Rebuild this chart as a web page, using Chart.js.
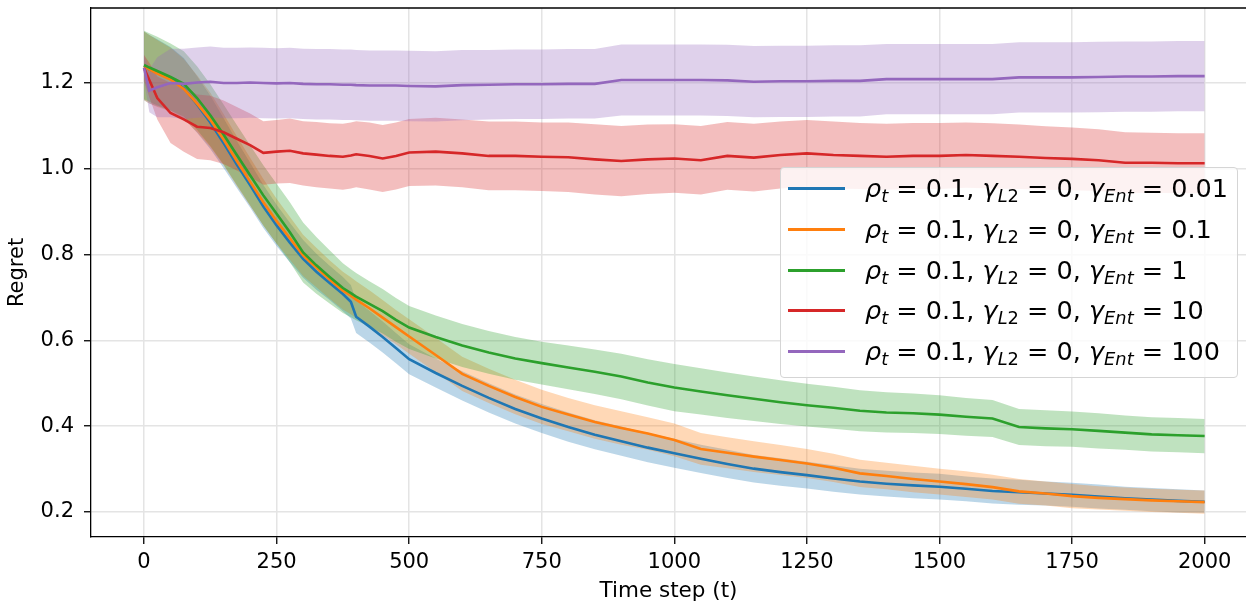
<!DOCTYPE html>
<html>
<head>
<meta charset="utf-8">
<script src="https://cdn.jsdelivr.net/npm/chart.js@4.4.0/dist/chart.umd.min.js"></script>
<style>
  body { margin: 0; background: #fff; }
  #wrap { position: relative; width: 1246px; height: 604px; overflow: hidden; }
  #legend {
    position: absolute; left: 780px; top: 167px; width: 456px; height: 209px;
    border: 1px solid #d5d5d5; border-radius: 4px; background: rgba(255,255,255,0.8);
    font-family: 'DejaVu Sans'; font-size: 25.5px; color: #000;
  }
  .row { position: absolute; left: 0; right: 0; height: 41px; line-height: 41px; white-space: nowrap; }
  .row .sw { position: absolute; left: 7px; width: 57px; height: 3px; top: 19px; }
  .row .txt { position: absolute; left: 84px; }
  .row sub { font-size: 70%; line-height: 0; vertical-align: -0.3em; }
  .row i { font-style: italic; }
  .row .up { font-style: normal; }
</style>
</head>
<body>
<div id="wrap">
  <canvas id="regretChart" width="1246" height="604"></canvas>
  <div id="legend"></div>
</div>
<script>
// time axis (shared by all runs)
const timeSteps = [0,10,25,50,75,100,125,150,175,200,225,250,275,300,325,350,375,390,400,425,450,475,500,
  550,600,650,700,750,800,850,900,950,1000,1050,1100,1150,1200,1250,1300,1350,1400,1450,1500,
  1550,1600,1650,1700,1750,1800,1850,1900,1950,2000];

// gamma_Ent = 0.01
const meanEnt001 = [1.240,1.232,1.224,1.210,1.188,1.150,1.108,1.060,1.010,0.962,0.912,0.868,0.828,0.790,0.760,0.734,0.708,0.690,0.655,0.632,0.608,0.582,0.556,
  0.524,0.494,0.466,0.440,0.418,0.398,0.380,0.365,0.350,0.337,0.324,0.312,0.301,0.293,0.286,0.278,0.271,0.266,0.262,0.259,
  0.254,0.249,0.246,0.243,0.240,0.236,0.232,0.229,0.226,0.224];
const stdEnt001 = [0.080,0.080,0.078,0.074,0.070,0.066,0.062,0.058,0.055,0.052,0.050,0.048,0.046,0.044,0.042,0.040,0.040,0.039,0.038,0.037,0.036,0.035,0.035,
  0.034,0.034,0.034,0.034,0.034,0.034,0.034,0.034,0.034,0.034,0.033,0.033,0.032,0.032,0.031,0.031,0.030,0.030,0.030,0.030,
  0.029,0.029,0.029,0.028,0.028,0.028,0.027,0.027,0.027,0.026];

// gamma_Ent = 0.1
const meanEnt01 = [1.240,1.232,1.222,1.208,1.186,1.152,1.114,1.068,1.018,0.970,0.922,0.878,0.838,0.798,0.770,0.742,0.716,0.704,0.695,0.675,0.653,0.631,0.609,
  0.566,0.522,0.494,0.468,0.445,0.427,0.410,0.396,0.383,0.368,0.347,0.338,0.329,0.321,0.313,0.303,0.290,0.284,0.277,0.271,
  0.265,0.258,0.248,0.243,0.237,0.233,0.230,0.227,0.225,0.223];
const stdEnt01 = [0.080,0.080,0.078,0.074,0.070,0.066,0.063,0.060,0.058,0.056,0.054,0.052,0.050,0.048,0.046,0.045,0.044,0.043,0.043,0.042,0.041,0.040,0.040,
  0.040,0.040,0.040,0.040,0.040,0.039,0.039,0.039,0.038,0.038,0.037,0.036,0.036,0.035,0.034,0.033,0.032,0.031,0.031,0.030,
  0.030,0.029,0.029,0.028,0.028,0.027,0.027,0.027,0.027,0.027];

// gamma_Ent = 1
const meanEnt1 = [1.242,1.236,1.228,1.214,1.198,1.165,1.125,1.080,1.032,0.985,0.938,0.895,0.852,0.805,0.775,0.748,0.722,0.710,0.702,0.685,0.668,0.648,0.630,
  0.608,0.588,0.572,0.558,0.547,0.537,0.527,0.516,0.502,0.490,0.481,0.472,0.464,0.456,0.449,0.443,0.436,0.432,0.430,0.427,
  0.422,0.418,0.398,0.395,0.393,0.389,0.385,0.381,0.379,0.377];
const stdEnt1 = [0.080,0.080,0.080,0.078,0.076,0.074,0.072,0.070,0.070,0.070,0.070,0.070,0.070,0.070,0.066,0.062,0.058,0.056,0.055,0.053,0.052,0.051,0.050,
  0.050,0.050,0.050,0.050,0.050,0.051,0.052,0.053,0.054,0.055,0.054,0.053,0.052,0.051,0.050,0.049,0.048,0.047,0.046,0.045,
  0.044,0.043,0.042,0.042,0.041,0.041,0.040,0.040,0.040,0.040];

// gamma_Ent = 10
const meanEnt10 = [1.235,1.207,1.165,1.130,1.115,1.098,1.095,1.085,1.070,1.055,1.037,1.040,1.042,1.036,1.033,1.030,1.028,1.031,1.034,1.030,1.024,1.030,1.038,
  1.040,1.036,1.030,1.030,1.028,1.027,1.022,1.018,1.022,1.024,1.020,1.030,1.026,1.032,1.036,1.032,1.030,1.028,1.030,1.030,
  1.032,1.030,1.028,1.025,1.023,1.020,1.014,1.014,1.013,1.013];
const stdEnt10 = [0.030,0.040,0.050,0.070,0.075,0.075,0.075,0.074,0.074,0.074,0.074,0.074,0.075,0.075,0.076,0.076,0.077,0.077,0.077,0.078,0.078,0.078,0.078,
  0.079,0.079,0.080,0.080,0.080,0.081,0.082,0.082,0.081,0.080,0.080,0.079,0.079,0.078,0.078,0.078,0.077,0.077,0.077,0.077,
  0.076,0.076,0.075,0.074,0.073,0.072,0.071,0.070,0.070,0.070];

// gamma_Ent = 100
const meanEnt100 = [1.235,1.182,1.190,1.200,1.198,1.201,1.203,1.200,1.200,1.201,1.200,1.199,1.200,1.198,1.197,1.197,1.196,1.196,1.195,1.194,1.194,1.194,1.193,
  1.192,1.195,1.196,1.197,1.197,1.198,1.198,1.207,1.207,1.207,1.207,1.206,1.203,1.204,1.204,1.205,1.205,1.209,1.209,1.209,
  1.209,1.209,1.213,1.213,1.213,1.214,1.215,1.215,1.216,1.216];
const stdEnt100 = [0.030,0.050,0.070,0.080,0.082,0.082,0.082,0.082,0.082,0.082,0.082,0.082,0.082,0.082,0.082,0.082,0.082,0.082,0.082,0.082,0.082,0.082,0.082,
  0.082,0.082,0.081,0.081,0.081,0.081,0.081,0.083,0.083,0.083,0.083,0.083,0.083,0.083,0.083,0.083,0.083,0.082,0.082,0.082,
  0.082,0.082,0.082,0.082,0.082,0.082,0.082,0.082,0.082,0.082];

const gammaEnt = ['0.01', '0.1', '1', '10', '100'];
const xTickValues = [0, 250, 500, 750, 1000, 1250, 1500, 1750, 2000];
const yTickValues = [0.2, 0.4, 0.6, 0.8, 1.0, 1.2];

const means = [meanEnt001, meanEnt01, meanEnt1, meanEnt10, meanEnt100];
const stds = [stdEnt001, stdEnt01, stdEnt1, stdEnt10, stdEnt100];
const lineColors = ['#1f77b4', '#ff7f0e', '#2ca02c', '#d62728', '#9467bd'];
const bandColors = ['rgba(31,119,180,0.3)', 'rgba(255,127,14,0.3)', 'rgba(44,160,44,0.3)',
  'rgba(214,39,40,0.3)', 'rgba(148,103,189,0.3)'];

let datasets = [];
for (let i = 0; i < means.length; i++) {
  let lower = timeSteps.map((t, j) => ({x: t, y: means[i][j] - stds[i][j]}));
  let upper = timeSteps.map((t, j) => ({x: t, y: means[i][j] + stds[i][j]}));
  let line = timeSteps.map((t, j) => ({x: t, y: means[i][j]}));
  datasets.push({data: lower, borderWidth: 0, borderColor: 'rgba(0,0,0,0)', pointRadius: 0, fill: false, order: 100 - 2 * i});
  datasets.push({data: upper, borderWidth: 0, borderColor: 'rgba(0,0,0,0)', pointRadius: 0,
    fill: 3 * i, backgroundColor: bandColors[i], order: 99 - 2 * i});
  datasets.push({data: line, borderColor: lineColors[i], borderWidth: 2.6, pointRadius: 0, fill: false, order: 10 - i});
}

// top spine like matplotlib
const topSpine = {
  id: 'topSpine',
  afterDraw(chart) {
    const {ctx, chartArea} = chart;
    ctx.save();
    ctx.strokeStyle = '#000';
    ctx.lineWidth = 1.3;
    ctx.beginPath();
    ctx.moveTo(chartArea.left, chartArea.top);
    ctx.lineTo(chartArea.right, chartArea.top);
    ctx.stroke();
    ctx.restore();
  }
};

Chart.defaults.font.family = 'DejaVu Sans';
Chart.defaults.color = '#000';

new Chart(document.getElementById('regretChart'), {
  type: 'line',
  data: {datasets: datasets},
  options: {
    responsive: false,
    animation: false,
    layout: {padding: {top: 8, left: 0, right: 0, bottom: 0}},
    plugins: {legend: {display: false}, tooltip: {enabled: false}},
    elements: {line: {tension: 0}},
    scales: {
      x: {
        type: 'linear', min: -100, max: 2078,
        afterBuildTicks: (s) => { s.ticks = xTickValues.map(v => ({value: v})); },
        afterFit: (s) => { s.height = 67; s.paddingLeft = 0; s.paddingRight = 0; },
        ticks: {font: {size: 21}, padding: 6, maxRotation: 0, autoSkip: false, callback: (v) => String(v)},
        grid: {color: '#e4e4e4', lineWidth: 1.5, tickColor: '#000', tickLength: 7, tickWidth: 1.3},
        border: {display: true, color: '#000', width: 1.3},
        title: {display: true, text: 'Time step (t)', font: {size: 21.5}, padding: {top: 0, bottom: 0}}
      },
      y: {
        min: 0.1417, max: 1.3748,
        afterBuildTicks: (s) => { s.ticks = yTickValues.map(v => ({value: v})); },
        afterFit: (s) => { s.width = 91; s.paddingTop = 0; s.paddingBottom = 0; },
        ticks: {font: {size: 21}, padding: 10, callback: (v) => v.toFixed(1)},
        grid: {color: '#e4e4e4', lineWidth: 1.5, tickColor: '#000', tickLength: 7, tickWidth: 1.3},
        border: {display: true, color: '#000', width: 1.3},
        title: {display: true, text: 'Regret', font: {size: 21}, padding: {top: 5, bottom: 0}}
      }
    }
  },
  plugins: [topSpine]
});

// legend with sub-scripted math labels
const legend = document.getElementById('legend');
gammaEnt.forEach((g, i) => {
  const row = document.createElement('div');
  row.className = 'row';
  row.style.top = (i * 40.75) + 'px';
  row.innerHTML = '<span class="sw" style="background:' + lineColors[i] + '"></span>' +
    '<span class="txt"><i>ρ</i><sub><i>t</i></sub> = 0.1, <i>γ</i><sub><i>L</i><span class="up">2</span></sub> = 0, ' +
    '<i>γ</i><sub><i>Ent</i></sub> = ' + g + '</span>';
  legend.appendChild(row);
});
</script>
</body>
</html>
